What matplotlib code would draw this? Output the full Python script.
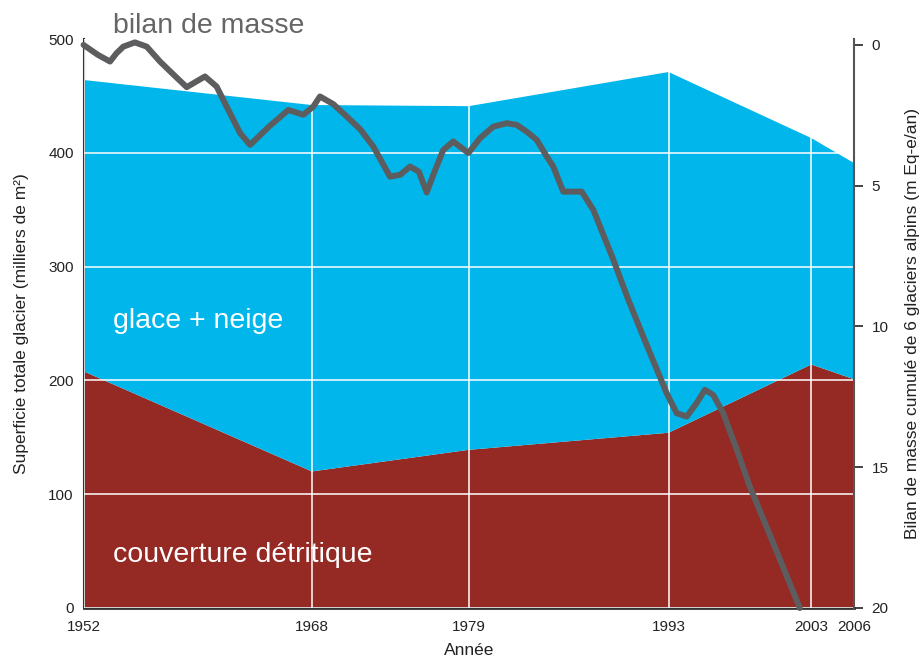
import matplotlib
matplotlib.use("Agg")
import matplotlib.pyplot as plt

plt.rcParams['font.family'] = ['Liberation Sans', 'DejaVu Sans']

# surfaces (milliers de m²) aux dates des relevés
annees = [1952, 1968, 1979, 1993, 2003, 2006]
debris = [208, 120, 139, 154, 214, 201]
surface_totale = [464, 442, 441, 471, 413, 391]
glace_neige = [t - d for t, d in zip(surface_totale, debris)]

# bilan de masse cumulé (m Eq-e/an), axe de droite inversé
bilan_annees = [1952.0, 1953.0, 1953.86, 1954.3, 1954.79, 1955.6, 1956.43,
                1957.36, 1958.3, 1959.23, 1959.9, 1960.51, 1961.33, 1962.03,
                1962.97, 1963.67, 1965.0, 1966.35, 1967.4, 1968.1, 1968.57,
                1969.5, 1970.44, 1971.4, 1972.31, 1973.48, 1974.2, 1974.88,
                1975.5, 1976.05, 1976.6, 1977.21, 1977.91, 1978.97, 1979.79,
                1980.72, 1981.66, 1982.36, 1983.06, 1983.76, 1984.46, 1984.92,
                1985.62, 1986.91, 1987.73, 1989.13, 1990.18, 1991.5, 1992.87,
                1993.57, 1994.27, 1994.97, 1995.55, 1996.13, 1996.83, 1997.8,
                1998.7, 2000.34, 2002.2]
bilan = [0.0, 0.35, 0.59, 0.3, 0.06, -0.09, 0.06,
         0.59, 1.05, 1.5, 1.3, 1.12, 1.48, 2.19,
         3.13, 3.55, 2.9, 2.31, 2.48, 2.19, 1.83,
         2.1, 2.54, 3.0, 3.61, 4.68, 4.61, 4.32,
         4.5, 5.24, 4.5, 3.73, 3.43, 3.84, 3.31,
         2.9, 2.78, 2.84, 3.08, 3.37, 3.96, 4.32,
         5.21, 5.21, 5.86, 7.63, 9.05, 10.7, 12.37,
         13.08, 13.2, 12.72, 12.25, 12.43, 13.08, 14.4,
         15.69, 17.7, 20.0]

cyan = '#00b6eb'
brun = '#952924'
gris = '#5d5d5f'

fig = plt.figure(figsize=(9.2, 6.66), dpi=100)
ax = fig.add_axes([0.0908, 0.0871, 0.8375, 0.8543])

ax.stackplot(annees, debris, glace_neige, colors=[brun, cyan], lw=0)
ax.set_xlim(1952, 2006)
ax.set_ylim(0, 500)
ax.set_xticks(annees)
ax.set_yticks([0, 100, 200, 300, 400, 500])
ax.set_axisbelow(False)
ax.grid(True, color='white', lw=1.1)
ax.tick_params(axis='both', length=0, labelsize=11, colors='#222222')
ax.tick_params(axis='x', pad=9)
ax.tick_params(axis='y', pad=7)
ax.set_xlabel('Année', fontsize=12.5, color='#222222', labelpad=6)
ax.set_ylabel('Superficie totale glacier (milliers de m²)', fontsize=12.5,
              color='#222222', labelpad=14)
for s in ['top', 'right']:
    ax.spines[s].set_visible(False)
ax.spines['left'].set_color('#333333')
ax.spines['left'].set_linewidth(1.5)
ax.spines['bottom'].set_color('#333333')
ax.spines['bottom'].set_linewidth(2)

ax2 = ax.twinx()
ax2.set_ylim(20, -0.21)
ax2.set_yticks([0, 5, 10, 15, 20])
ax2.plot(bilan_annees, bilan, color=gris, lw=4.3, solid_capstyle='round',
         solid_joinstyle='round', clip_on=False)
ax2.tick_params(axis='y', length=6.5, width=1.2, pad=6, labelsize=11,
                colors='#222222')
ax2.set_ylabel('Bilan de masse cumulé de 6 glaciers alpins (m Eq-e/an)',
               fontsize=12.5, color='#222222', labelpad=12)
for s in ['top', 'left', 'bottom']:
    ax2.spines[s].set_visible(False)
ax2.spines['right'].set_color('#555555')
ax2.spines['right'].set_linewidth(1.5)

ax.text(1954.1, 505.5, 'bilan de masse', fontsize=20.5, color='#666666',
        va='baseline', clip_on=False)
ax.text(1954.1, 245.8, 'glace + neige', fontsize=20.5, color='white',
        va='baseline')
ax.text(1954.1, 40.7, 'couverture détritique', fontsize=20.5, color='white',
        va='baseline')

fig.savefig('out.png', dpi=100)
